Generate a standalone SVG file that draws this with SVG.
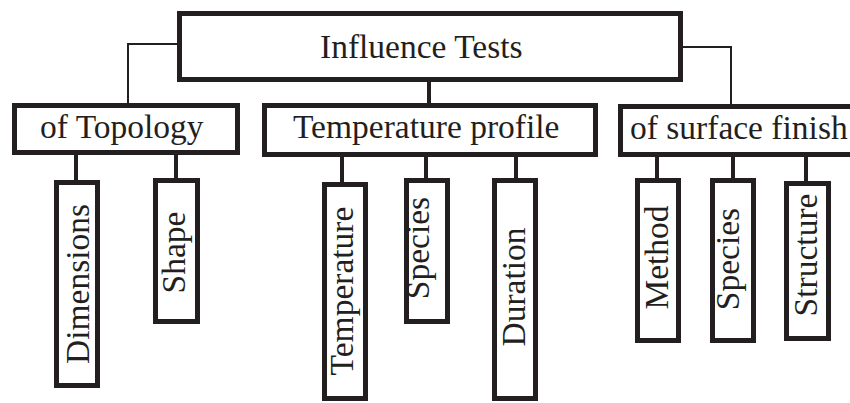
<svg xmlns="http://www.w3.org/2000/svg" width="850" height="403" viewBox="0 0 850 403">
<style>
.box{fill:#fff;stroke:#231f20;stroke-width:5}
.t{font-family:"Liberation Serif","Times New Roman",serif;font-size:33.5px;fill:#231f20}
.thin{fill:none;stroke:#231f20;stroke-width:2}
.thick{fill:none;stroke:#231f20;stroke-width:4}
</style>
<rect width="850" height="403" fill="#fff"/>
<g id="connectors">
<polyline class="thin" points="178,44 128,44 128,104"/>
<polyline class="thin" points="682,47 731,47 731,105"/>
<line class="thick" x1="429" y1="81" x2="429" y2="104"/>
<line class="thick" x1="76" y1="154" x2="76" y2="181"/>
<line class="thick" x1="176" y1="154" x2="176" y2="179"/>
<line class="thick" x1="342" y1="156" x2="342" y2="183"/>
<line class="thick" x1="426" y1="156" x2="426" y2="179"/>
<line class="thick" x1="516" y1="156" x2="516" y2="179"/>
<line class="thick" x1="657" y1="156" x2="657" y2="179"/>
<line class="thick" x1="733" y1="156" x2="733" y2="179"/>
<line class="thick" x1="806" y1="156" x2="806" y2="182"/>
</g>
<g id="influence-tests">
<rect class="box" x="179.5" y="13.5" width="501" height="66"/>
<text class="t" x="320" y="58">Influence Tests</text>
</g>
<g id="of-topology">
<rect class="box" x="14.5" y="105.5" width="223" height="47"/>
<text class="t" x="40" y="138">of Topology</text>
</g>
<g id="temperature-profile">
<rect class="box" x="264.5" y="105.5" width="331" height="49"/>
<text class="t" x="293" y="138">Temperature profile</text>
</g>
<g id="of-surface-finish">
<rect class="box" x="620.5" y="106.5" width="240" height="48"/>
<text class="t" x="630" y="139">of surface finish</text>
</g>
<g id="dimensions">
<rect class="box" x="56.5" y="182.5" width="41" height="203"/>
<text class="t" text-anchor="middle" transform="translate(89,284) rotate(-90)">Dimensions</text>
</g>
<g id="shape">
<rect class="box" x="155.5" y="180.5" width="42" height="141"/>
<text class="t" text-anchor="middle" transform="translate(185,252.5) rotate(-90)">Shape</text>
</g>
<g id="temperature">
<rect class="box" x="324.5" y="184.5" width="41" height="214"/>
<text class="t" text-anchor="middle" transform="translate(353,291) rotate(-90)">Temperature</text>
</g>
<g id="species-1">
<rect class="box" x="406.5" y="180.5" width="41" height="141"/>
<text class="t" text-anchor="middle" transform="translate(429,248) rotate(-90)">Species</text>
</g>
<g id="duration">
<rect class="box" x="494.5" y="180.5" width="41" height="218"/>
<text class="t" text-anchor="middle" transform="translate(525,287) rotate(-90)">Duration</text>
</g>
<g id="method">
<rect class="box" x="637.5" y="180.5" width="41" height="160"/>
<text class="t" text-anchor="middle" transform="translate(668,257.5) rotate(-90)">Method</text>
</g>
<g id="species-2">
<rect class="box" x="712.5" y="180.5" width="41" height="160"/>
<text class="t" text-anchor="middle" transform="translate(739,259) rotate(-90)">Species</text>
</g>
<g id="structure">
<rect class="box" x="786.5" y="183.5" width="42" height="155"/>
<text class="t" text-anchor="middle" transform="translate(817,255) rotate(-90)">Structure</text>
</g>
</svg>
